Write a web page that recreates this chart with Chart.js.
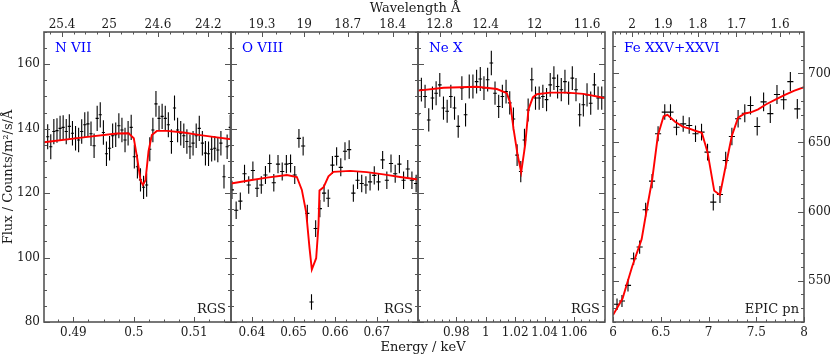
<!DOCTYPE html>
<html>
<head>
<meta charset="utf-8">
<script src="https://cdn.jsdelivr.net/npm/chart.js@4/dist/chart.umd.min.js"></script>
<style>
html,body{margin:0;padding:0;background:#ffffff;}
#wrap{position:relative;width:830px;height:354px;overflow:hidden;background:#ffffff;}
#wrap canvas{position:absolute;left:0;top:0;}
</style>
</head>
<body>
<div id="wrap">
<canvas id="p1" width="830" height="354"></canvas>
<canvas id="p2" width="830" height="354"></canvas>
<canvas id="p3" width="830" height="354"></canvas>
<canvas id="p4" width="830" height="354"></canvas>
</div>
<script>
// ---------------- DATA ----------------
const HC = 12.39842; // keV * Angstrom

// Panel 1: N VII (RGS)
const nviiEnergy = [0.48575,0.48626,0.48677,0.48729,0.48780,0.48831,0.48882,0.48933,0.48985,0.49036,0.49087,0.49138,0.49189,0.49241,0.49292,0.49343,0.49394,0.49445,0.49497,0.49548,0.49599,0.49650,0.49701,0.49753,0.49804,0.49855,0.49906,0.49957,0.50009,0.50060,0.50111,0.50162,0.50213,0.50265,0.50316,0.50367,0.50418,0.50469,0.50521,0.50572,0.50623,0.50674,0.50725,0.50777,0.50828,0.50879,0.50930,0.50981,0.51033,0.51084,0.51135,0.51186,0.51237,0.51289,0.51340,0.51391,0.51442,0.51493,0.51545,0.51596];
const nviiFlux = [137.5,134.4,139.1,139.4,140.1,140.4,139.1,140.7,138.6,137.0,136.5,139.1,141.2,141.5,138.4,134.7,143.2,144.3,138.8,132.2,133.9,137.8,138.1,140.9,139.6,136.5,138.6,140.4,131.3,128.2,124.1,121.8,122.5,133.6,139.6,147.7,143.2,143.8,143.2,141.2,136.0,146.4,139.6,138.6,137.8,136.0,134.4,135.5,137.8,140.1,135.5,132.4,132.2,133.6,133.9,133.4,135.5,125.1,134.4,140.4];
const nviiErr = [3.9,3.9,3.9,3.8,3.9,3.8,3.9,3.8,3.8,3.8,3.8,3.8,3.9,3.8,3.8,3.8,3.9,3.9,3.8,3.8,3.8,3.8,3.8,3.9,3.8,3.8,3.8,3.9,3.7,3.7,3.6,3.6,3.6,3.7,3.8,4.0,3.9,3.9,3.9,3.9,3.8,3.9,3.8,3.8,3.8,3.8,3.8,3.8,3.8,3.9,3.8,3.8,3.8,3.8,3.8,3.8,3.8,3.7,3.8,3.9];
const nviiBinHalf = 0.00026;
const nviiModelEnergy = [0.48514,0.49166,0.49719,0.49912,0.50000,0.50055,0.50111,0.50150,0.50194,0.50244,0.50299,0.50382,0.50548,0.50824,0.51100,0.51376,0.51609];
const nviiModelFlux = [135.8,137.3,138.5,138.6,137.0,131.0,124.0,122.5,124.0,133.0,138.0,139.3,139.3,138.8,138.0,137.3,136.7];

// Panel 2: O VIII (RGS)
const oviiiEnergy = [0.63519,0.63620,0.63720,0.63821,0.63922,0.64022,0.64123,0.64224,0.64324,0.64425,0.64525,0.64626,0.64727,0.64827,0.64928,0.65028,0.65129,0.65230,0.65330,0.65431,0.65531,0.65632,0.65733,0.65833,0.65934,0.66035,0.66135,0.66236,0.66336,0.66437,0.66538,0.66638,0.66739,0.66839,0.66940,0.67041,0.67141,0.67242,0.67342,0.67443,0.67544,0.67644,0.67745,0.67845,0.67946];
const oviiiFlux = [121.0,114.7,117.5,126.0,122.5,127.0,121.5,122.5,125.6,129.2,123.2,129.0,126.7,129.0,129.2,125.6,137.0,134.6,113.7,86.2,109.0,115.2,120.0,118.4,128.7,131.4,128.0,133.0,133.5,120.0,124.0,123.0,122.5,123.5,125.5,123.5,130.3,124.0,129.2,126.0,129.0,124.0,127.5,124.0,123.0];
const oviiiErr = [2.8,2.7,2.7,2.8,2.7,2.8,2.7,2.7,2.8,2.8,2.7,2.8,2.8,2.8,2.8,2.8,2.9,2.9,2.7,2.4,2.6,2.7,2.7,2.7,2.8,2.8,2.8,2.8,2.9,2.7,2.7,2.7,2.7,2.7,2.8,2.7,2.8,2.7,2.8,2.8,2.8,2.7,2.8,2.7,2.7];
const oviiiBinHalf = 0.0005;
const oviiiModelEnergy = [0.63496,0.63959,0.64359,0.64839,0.65079,0.65199,0.65303,0.65383,0.65439,0.65543,0.65599,0.65623,0.65719,0.65839,0.65959,0.66359,0.66759,0.67159,0.67559,0.67991];
const oviiiModelFlux = [123.0,124.0,124.8,125.6,125.0,121.0,114.0,103.0,96.3,99.8,110.0,120.8,121.8,125.2,126.6,126.9,126.5,125.8,125.0,124.2];

// Panel 3: Ne X (RGS)
const neEnergy = [0.9538,0.9563,0.9588,0.9613,0.9638,0.9663,0.9688,0.9713,0.9738,0.9763,0.9788,0.9813,0.9838,0.9863,0.9888,0.9913,0.9938,0.9963,0.9988,1.0013,1.0038,1.0063,1.0088,1.0113,1.0138,1.0163,1.0188,1.0213,1.0238,1.0263,1.0288,1.0313,1.0338,1.0363,1.0388,1.0413,1.0438,1.0463,1.0488,1.0513,1.0538,1.0563,1.0588,1.0613,1.0638,1.0663,1.0688,1.0713,1.0738,1.0763,1.0788];
const neFlux = [144.3,152.1,150.0,142.7,149.5,151.0,153.6,146.4,145.4,150.0,146.4,140.7,152.6,144.3,153.1,153.1,154.6,155.4,152.6,155.2,160.4,151.0,146.9,150.0,151.5,148.0,143.0,131.8,126.7,136.5,145.8,155.2,149.5,149.5,150.0,149.0,153.6,155.7,153.1,152.1,154.6,151.0,155.7,152.1,144.3,147.4,150.5,147.9,153.6,149.5,149.5];
const neErr = [3.6,3.7,3.6,3.6,3.6,3.7,3.7,3.6,3.6,3.6,3.6,3.5,3.7,3.6,3.7,3.7,3.7,3.7,3.7,3.7,3.8,3.6,3.6,3.6,3.7,3.6,3.6,3.4,3.3,3.5,3.6,3.7,3.6,3.6,3.6,3.6,3.7,3.7,3.7,3.6,3.7,3.6,3.7,3.6,3.6,3.6,3.6,3.6,3.7,3.6,3.6];
const neBinHalf = 0.00125;
const neModelEnergy = [0.954,0.97141,0.99401,1.00757,1.01435,1.01661,1.01887,1.02158,1.02407,1.02678,1.02904,1.03198,1.03469,1.04373,1.05503,1.06633,1.081];
const neModelFlux = [151.8,152.7,153.0,152.3,151.0,148.0,140.0,132.0,126.5,135.0,146.0,149.7,150.7,151.2,151.2,150.8,149.5];

// Panel 4: Fe XXV+XXVI (EPIC pn)
const feEnergy = [6.042,6.094,6.157,6.216,6.279,6.342,6.409,6.472,6.542,6.602,6.665,6.735,6.798,6.864,6.927,6.990,7.050,7.120,7.180,7.245,7.310,7.380,7.440,7.510,7.577,7.647,7.717,7.787,7.857,7.930];
const feFlux = [532.8,535.2,546.5,565.8,574.3,601.3,622.0,656.3,672.0,672.0,661.0,663.5,662.3,656.3,657.5,643.0,606.8,612.3,637.0,654.3,667.2,671.2,676.8,661.6,679.4,670.9,684.7,680.9,694.1,674.3];
const feErr = [4.2,4.3,4.5,4.6,4.8,5.0,5.2,5.5,5.6,5.7,5.7,5.8,5.9,6.0,6.0,6.0,6.0,6.1,6.2,6.3,6.4,6.5,6.6,6.6,6.7,6.8,6.9,7.0,7.0,7.1];
const feBinHalf = 0.032;
const feModelEnergy = [6.0,6.1,6.2,6.3,6.35,6.41,6.47,6.53,6.57,6.65,6.73,6.80,6.86,6.93,6.99,7.06,7.12,7.18,7.245,7.31,7.38,7.45,7.52,7.6,7.7,7.8,7.9,8.0];
const feModelFlux = [525,537,560,580,600,623,655,669,670,665,661.5,660,658.5,657,643,615,612,633,655,668,671,672,674,677.5,681,684.5,687.5,690];

// Tick values / labels
const nviiEnergyTicks = [0.49, 0.5, 0.51];
const nviiEnergyLabels = ['0.49', '0.5', '0.51'];
const nviiWaveTicks = [25.4, 25, 24.6, 24.2];
const nviiWaveLabels = ['25.4', '25', '24.6', '24.2'];
const oviiiEnergyTicks = [0.64, 0.65, 0.66, 0.67];
const oviiiEnergyLabels = ['0.64', '0.65', '0.66', '0.67'];
const oviiiWaveTicks = [19.3, 19, 18.7, 18.4];
const oviiiWaveLabels = ['19.3', '19', '18.7', '18.4'];
const neEnergyTicks = [0.98, 1, 1.02, 1.04, 1.06];
const neEnergyLabels = ['0.98', '1', '1.02', '1.04', '1.06'];
const neWaveTicks = [12.8, 12.4, 12, 11.6];
const neWaveLabels = ['12.8', '12.4', '12', '11.6'];
const feEnergyTicks = [6, 6.5, 7, 7.5, 8];
const feEnergyLabels = ['6', '6.5', '7', '7.5', '8'];
const feWaveTicks = [2, 1.9, 1.8, 1.7, 1.6];
const feWaveLabels = ['2', '1.9', '1.8', '1.7', '1.6'];
const rgsFluxTicks = [80, 100, 120, 140, 160];
const rgsFluxLabels = ['80', '100', '120', '140', '160'];
const pnFluxTicks = [550, 600, 650, 700];
const pnFluxLabels = ['550', '600', '650', '700'];

// ---------------- STYLE ----------------
const FONT = '"DejaVu Serif", "Liberation Serif", serif';
const TXT = '#1a1a1a';
const FRAME = '#555555';
const TICKC = '#555555';

const axisFramePlugin = {
  id: 'axisFrame',
  afterDraw(chart, args, o) {
    const ctx = chart.ctx;
    const {left, right, top, bottom} = chart.chartArea;
    const xs = chart.scales.x, ys = chart.scales.y;
    ctx.save();
    ctx.strokeStyle = TICKC;
    ctx.lineWidth = 1;
    ctx.beginPath();
    const vt = (v, y0, len) => { const p = Math.round(xs.getPixelForValue(v)) + 0.5; ctx.moveTo(p, y0); ctx.lineTo(p, y0 + len); };
    const ht = (v, x0, len) => { const p = Math.round(ys.getPixelForValue(v)) + 0.5; ctx.moveTo(x0, p); ctx.lineTo(x0 + len, p); };
    for (let k = Math.ceil(xs.min / o.eMinor - 1e-6); k * o.eMinor <= xs.max + 1e-9; k++) vt(k * o.eMinor, bottom, -2.5);
    o.eMajor.forEach(v => vt(v, bottom, -5));
    const wLo = HC / xs.max, wHi = HC / xs.min;
    for (let k = Math.ceil(wLo / o.wMinor - 1e-6); k * o.wMinor <= wHi + 1e-9; k++) vt(HC / (k * o.wMinor), top, 2.5);
    o.wMajor.forEach(w => vt(HC / w, top, 5));
    for (let k = Math.ceil(ys.min / o.yMinor - 1e-6); k * o.yMinor <= ys.max + 1e-9; k++) { ht(k * o.yMinor, left, 3); ht(k * o.yMinor, right, -3); }
    o.yMajor.forEach(v => { ht(v, left, 6); ht(v, right, -6); });
    ctx.stroke();
    ctx.strokeStyle = FRAME;
    ctx.lineWidth = 1.6;
    ctx.strokeRect(left, top, right - left, bottom - top);
    ctx.font = '13.5px ' + FONT;
    ctx.textBaseline = 'middle';
    ctx.fillStyle = '#0000ff';
    ctx.textAlign = 'left';
    ctx.fillText(o.label, left + 11, top + 16);
    ctx.fillStyle = TXT;
    ctx.font = '13px ' + FONT;
    ctx.textAlign = 'right';
    ctx.fillText(o.inst, right - 5, bottom - 12);
    if (o.globalTitles) {
      ctx.textAlign = 'center';
      ctx.fillText('Wavelength Å', 415, 9);
      ctx.fillText('Energy / keV', 423, 348);
    }
    ctx.restore();
  }
};

function vbars(xs, ys, es) {
  const out = [];
  xs.forEach((x, i) => { out.push({x: x, y: ys[i] - es[i]}, {x: x, y: ys[i] + es[i]}, {x: x, y: null}); });
  return out;
}
function hbars(xs, ys, hw) {
  const out = [];
  xs.forEach((x, i) => { out.push({x: x - hw, y: ys[i]}, {x: x + hw, y: ys[i]}, {x: x + hw, y: null}); });
  return out;
}
function pts(xs, ys) { return xs.map((x, i) => ({x: x, y: ys[i]})); }

function makePanel(id, p) {
  const tickFont = {family: FONT, size: 12};
  const yScale = {
    type: 'linear', position: p.yPos, min: p.yMin, max: p.yMax, display: p.yShow,
    grid: {display: false, drawTicks: false}, border: {display: false},
    afterBuildTicks: s => { s.ticks = p.yTicks.map(v => ({value: v})); },
    afterFit: s => { s.width = p.yWidth; },
    ticks: {font: tickFont, color: TXT, padding: 4, autoSkip: false, callback: (v, i) => p.yLabels[i]}
  };
  if (p.yTitle) {
    yScale.title = {display: true, text: p.yTitle, font: {family: FONT, size: 13}, color: TXT, padding: {top: 1, bottom: 0}};
  }
  return new Chart(document.getElementById(id), {
    type: 'scatter',
    data: {
      datasets: [
        {data: pts(p.mx, p.my), showLine: true, borderColor: '#ff0000', borderWidth: 1.9, pointRadius: 0, fill: false},
        {data: vbars(p.ex, p.ey, p.ee), showLine: true, spanGaps: false, borderColor: '#000000', borderWidth: 1.1, pointRadius: 0},
        {data: hbars(p.ex, p.ey, p.hw), showLine: true, spanGaps: false, borderColor: '#000000', borderWidth: 1.1, pointRadius: 0}
      ]
    },
    options: {
      responsive: false, animation: false, events: [],
      layout: {autoPadding: false, padding: {left: p.padL, right: p.padR, top: 0, bottom: 0}},
      plugins: {
        legend: {display: false}, tooltip: {enabled: false},
        axisFrame: {label: p.label, inst: p.inst, eMajor: p.eTicks, eMinor: p.eMinor, wMajor: p.wTicks, wMinor: p.wMinor, yMajor: p.yTicks, yMinor: p.yMinor, globalTitles: !!p.globalTitles}
      },
      scales: {
        x: {
          type: 'linear', position: 'bottom', min: p.xMin, max: p.xMax,
          grid: {display: false, drawTicks: false}, border: {display: false},
          afterBuildTicks: s => { s.ticks = p.eTicks.map(v => ({value: v})); },
          afterFit: s => { s.height = 32; },
          ticks: {font: tickFont, color: TXT, padding: 4, autoSkip: false, maxRotation: 0, minRotation: 0, callback: (v, i) => p.eLabels[i]}
        },
        xw: {
          type: 'linear', position: 'top', min: p.xMin, max: p.xMax,
          grid: {display: false, drawTicks: false}, border: {display: false},
          afterBuildTicks: s => { s.ticks = p.wTicks.map(w => ({value: HC / w})); },
          afterFit: s => { s.height = 32; },
          ticks: {font: tickFont, color: TXT, padding: 0, autoSkip: false, maxRotation: 0, minRotation: 0, callback: (v, i) => p.wLabels[i]}
        },
        y: yScale
      }
    },
    plugins: [axisFramePlugin]
  });
}

makePanel('p1', {
  label: 'N VII', inst: 'RGS', globalTitles: true,
  xMin: 0.48514, xMax: 0.51609, eTicks: nviiEnergyTicks, eLabels: nviiEnergyLabels, eMinor: 0.0025,
  wTicks: nviiWaveTicks, wLabels: nviiWaveLabels, wMinor: 0.1,
  yMin: 80, yMax: 170, yTicks: rgsFluxTicks, yLabels: rgsFluxLabels, yMinor: 5,
  yPos: 'left', yShow: true, yWidth: 44, yTitle: 'Flux / Counts/m²/s/Å', padL: 0, padR: 599,
  mx: nviiModelEnergy, my: nviiModelFlux, ex: nviiEnergy, ey: nviiFlux, ee: nviiErr, hw: nviiBinHalf
});
makePanel('p2', {
  label: 'O VIII', inst: 'RGS',
  xMin: 0.63496, xMax: 0.67991, eTicks: oviiiEnergyTicks, eLabels: oviiiEnergyLabels, eMinor: 0.0025,
  wTicks: oviiiWaveTicks, wLabels: oviiiWaveLabels, wMinor: 0.1,
  yMin: 80, yMax: 170, yTicks: rgsFluxTicks, yLabels: rgsFluxLabels, yMinor: 5,
  yPos: 'left', yShow: false, yWidth: 0, padL: 231, padR: 412,
  mx: oviiiModelEnergy, my: oviiiModelFlux, ex: oviiiEnergy, ey: oviiiFlux, ee: oviiiErr, hw: oviiiBinHalf
});
makePanel('p3', {
  label: 'Ne X', inst: 'RGS',
  xMin: 0.954, xMax: 1.081, eTicks: neEnergyTicks, eLabels: neEnergyLabels, eMinor: 0.005,
  wTicks: neWaveTicks, wLabels: neWaveLabels, wMinor: 0.1,
  yMin: 80, yMax: 170, yTicks: rgsFluxTicks, yLabels: rgsFluxLabels, yMinor: 5,
  yPos: 'left', yShow: false, yWidth: 0, padL: 418, padR: 225,
  mx: neModelEnergy, my: neModelFlux, ex: neEnergy, ey: neFlux, ee: neErr, hw: neBinHalf
});
makePanel('p4', {
  label: 'Fe XXV+XXVI', inst: 'EPIC pn',
  xMin: 6, xMax: 8, eTicks: feEnergyTicks, eLabels: feEnergyLabels, eMinor: 0.1,
  wTicks: feWaveTicks, wLabels: feWaveLabels, wMinor: 0.02,
  yMin: 520, yMax: 730, yTicks: pnFluxTicks, yLabels: pnFluxLabels, yMinor: 10,
  yPos: 'right', yShow: true, yWidth: 26, padL: 613, padR: 0,
  mx: feModelEnergy, my: feModelFlux, ex: feEnergy, ey: feFlux, ee: feErr, hw: feBinHalf
});
</script>
</body>
</html>
